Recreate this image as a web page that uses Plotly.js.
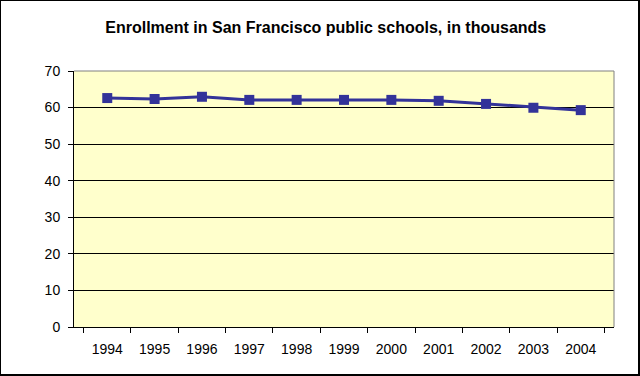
<!DOCTYPE html>
<html>
<head>
<meta charset="utf-8">
<script src="https://cdn.plot.ly/plotly-3.0.1.min.js"></script>
<style>
html,body{margin:0;padding:0;background:#fff;}
#frame{position:absolute;left:0;top:0;width:640px;height:376px;box-sizing:border-box;border-left:1px solid #000;border-top:1px solid #000;border-right:2px solid #000;border-bottom:2px solid #000;overflow:hidden;}
#chart{position:absolute;left:-1px;top:-1px;width:640px;height:376px;}
</style>
</head>
<body>
<div id="frame"><div id="chart"></div></div>
<script>
const years = ['1994','1995','1996','1997','1998','1999','2000','2001','2002','2003','2004'];
const enrollment = [62.6, 62.35, 62.95, 62.1, 62.1, 62.1, 62.1, 61.85, 61.0, 59.95, 59.3];
const yTicks = [0,10,20,30,40,50,60,70];

const trace = {
  x: years, y: enrollment, type: 'scatter', mode: 'lines+markers',
  line: {color: '#333399', width: 3},
  marker: {symbol: 'square', size: 10, color: '#333399'},
  hoverinfo: 'skip'
};

const layout = {
  width: 640, height: 376,
  margin: {l: 74, r: 26, t: 71, b: 49},
  paper_bgcolor: 'rgba(0,0,0,0)',
  plot_bgcolor: '#FFFFCC',
  showlegend: false,
  font: {family: 'Arial, "Liberation Sans", sans-serif', size: 14, color: '#000'},
  title: {
    text: 'Enrollment in San Francisco public schools, in thousands',
    font: {family: 'Arial, "Liberation Sans", sans-serif', size: 16, color: '#000', weight: 'bold'},
    x: 0.509, xanchor: 'center', y: 0.928, yanchor: 'middle'
  },
  xaxis: {
    type: 'category', tickson: 'boundaries',
    showgrid: false, showline: true, linecolor: '#000', linewidth: 1,
    ticks: 'outside', ticklen: 5, tickcolor: '#000', tickwidth: 1,
    tickfont: {size: 14, color: '#000'}, ticklabelstandoff: 9,
    fixedrange: true
  },
  yaxis: {
    range: [0, 70], tickvals: yTicks, ticktext: yTicks.map(String),
    showgrid: true, gridcolor: '#000', gridwidth: 1,
    zeroline: false, showline: true, linecolor: '#000', linewidth: 1,
    ticks: 'outside', ticklen: 5, tickcolor: '#000', tickwidth: 1,
    tickfont: {size: 14, color: '#000'}, ticklabelstandoff: 5,
    fixedrange: true
  },
  shapes: [
    {type: 'line', xref: 'paper', yref: 'paper', x0: 0, x1: 1, y0: 1, y1: 1, line: {color: '#808080', width: 1}},
    {type: 'line', xref: 'paper', yref: 'paper', x0: 1, x1: 1, y0: 0, y1: 1, line: {color: '#808080', width: 1}}
  ]
};

Plotly.newPlot('chart', [trace], layout, {displayModeBar: false, staticPlot: true});
</script>
</body>
</html>
